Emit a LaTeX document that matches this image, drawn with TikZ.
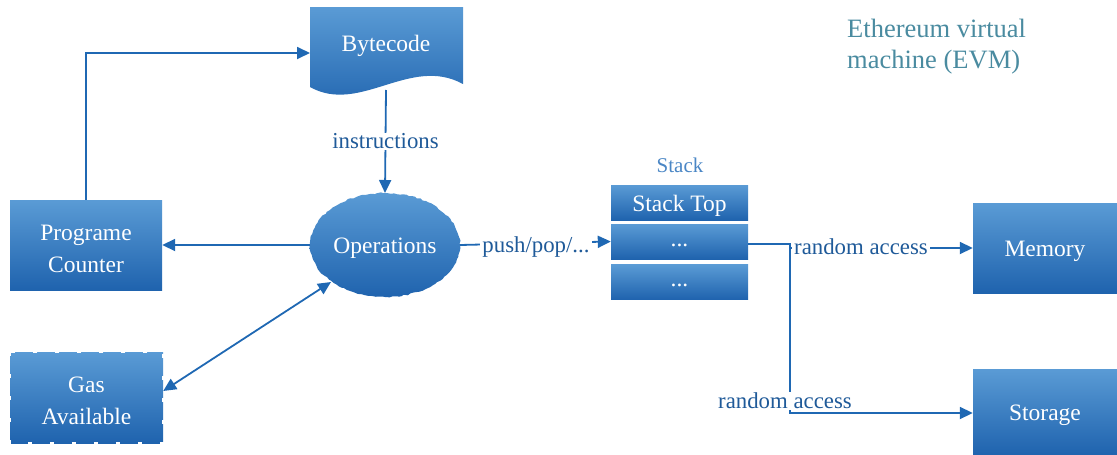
\documentclass[tikz,border=0pt]{standalone}
\usepackage{fontspec}
\setmainfont{Liberation Serif}
\newfontfamily\tms{Liberation Serif}
\usetikzlibrary{arrows.meta,decorations.pathmorphing}
\definecolor{boxtop}{HTML}{5A9BD5}
\definecolor{boxbot}{HTML}{1F63AE}
\definecolor{conn}{HTML}{1F68B3}
\definecolor{labc}{HTML}{1F5A99}
\definecolor{titlec}{HTML}{4A8BA0}
\definecolor{stackc}{HTML}{4A86C5}
\tikzset{
  blockbox/.style={rectangle, top color=boxtop, bottom color=boxbot, draw=none, inner sep=0pt},
  btext/.style={text=white, align=center, inner sep=0pt, yshift=-3.5pt, font=\tms\fontsize{23.5}{32}\selectfont},
  stackbox/.style={blockbox, minimum width=137pt, minimum height=35pt},
  arr/.style={draw=conn, line width=1.8pt, -{Triangle[length=13pt,width=12pt]}},
  lab/.style={text=labc, fill=white, inner xsep=2pt, inner ysep=1pt, font=\tms\fontsize{22.8}{24}\selectfont},
}
\begin{document}
\begin{tikzpicture}[x=1pt,y=-1pt]
\useasboundingbox (0,0) rectangle (1117,455);
% title
\node[text=titlec, align=left, anchor=north west, inner sep=0pt, font=\tms\fontsize{26.5}{31}\selectfont] (title) at (847,19) {Ethereum virtual\\machine (EVM)};
% Bytecode document shape
\shade[top color=boxtop, bottom color=boxbot] (310,7) -- (463,7) -- (463,84) .. controls (410,55) and (360,115) .. (310,87) -- cycle;
\node[btext] (byte) at (386,42) {Bytecode};
\coordinate (bytebot) at (386,90);
\coordinate (byteleft) at (310,53);
% Programe Counter
\node[blockbox, minimum width=152pt, minimum height=90pt] (pc) at (86,245) {};
\node[btext] (pct) at (pc) {Programe\\Counter};
% Operations ellipse
\shade[top color=boxtop, bottom color=boxbot, decorate, decoration={random steps, segment length=3pt, amplitude=0.7pt}] (385,245) ellipse [x radius=75, y radius=52];
\node[btext] (ops) at (385,245) {Operations};
\coordinate (opstop) at (385,193);
\coordinate (opsleft) at (310,245);
\coordinate (opsright) at (460,245);
\coordinate (opsll) at (331,282);
% Gas Available
\node[blockbox, minimum width=153pt, minimum height=91pt] (gas) at (86.5,397.5) {};
\draw[white, line width=2.5pt, dash pattern=on 4pt off 18pt] (gas.north west) rectangle (gas.south east);
\node[btext] (gast) at (gas) {Gas\\Available};
% Stack
\node[text=stackc, font=\tms\fontsize{21}{24}\selectfont, inner sep=0pt] (stacklab) at (680,165) {Stack};
\node[stackbox] (s1) at (679.5,202.5) {};
\node[btext] (s1t) at (s1) {Stack Top};
\node[stackbox] (s2) at (679.5,241.5) {};
\node[btext] (s2t) at (s2) {...};
\node[stackbox] (s3) at (679.5,282) {};
\node[btext] (s3t) at (s3) {...};
% Memory and Storage
\node[blockbox, minimum width=144pt, minimum height=90pt] (mem) at (1045,248) {};
\node[btext] (memt) at (mem) {Memory};
\node[blockbox, minimum width=144pt, minimum height=86pt] (sto) at (1045,412) {};
\node[btext] (stot) at (sto) {Storage};
% connectors
\draw[arr] (pc.north) |- (byteleft);
\draw[arr] (bytebot) -- node[lab, pos=0.5] (instr) {instructions} (opstop);
\draw[arr] (opsleft) -- (pc.east |- opsleft);
\draw[draw=conn, line width=1.8pt, {Triangle[length=13pt,width=12pt]}-{Triangle[length=13pt,width=12pt]}] (gas.east |- 0,391) -- (opsll);
\draw[arr] (opsright) -- (s2.west);
\node[lab] (pp) at (536,247) {push/pop/...};
\coordinate (junc) at (790,244);
\draw[arr] (s2.east |- junc) -- (junc) -- (junc |- 0,248) -- (mem.west |- 0,248);
\node[lab] (ra1) at (861,247) {random access};
\draw[arr] (junc) |- (sto.west |- 0,413);
\node[lab] (ra2) at (785,401) {random access};
\draw[draw=conn, line width=1.8pt] (790,413) -- (850,413);
\end{tikzpicture}
\end{document}
